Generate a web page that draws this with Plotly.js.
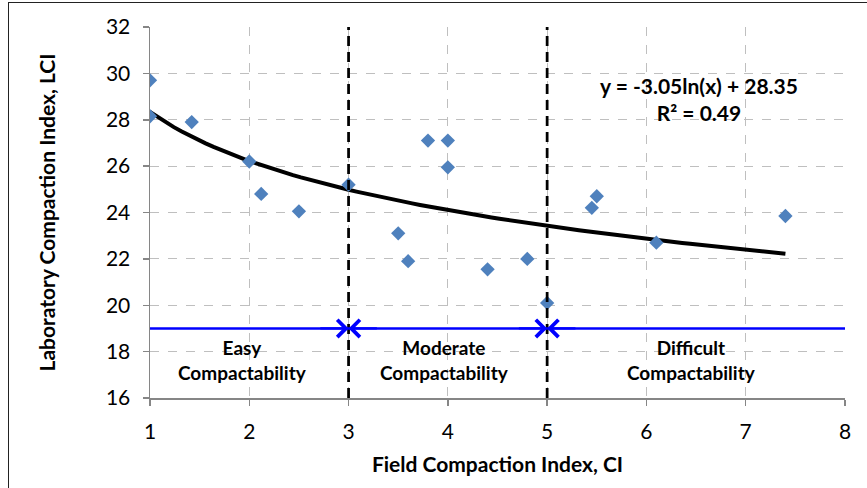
<!DOCTYPE html>
<html>
<head>
<meta charset="utf-8">
<script src="https://cdn.plot.ly/plotly-3.0.1.min.js"></script>
<style>
  html, body { margin: 0; padding: 0; background: #fff; }
  #wrap { position: relative; width: 867px; height: 488px; overflow: hidden; }
  #chart { position: absolute; left: 0; top: 0; width: 867px; height: 488px; }
  #frame { position: absolute; left: 8px; top: 2px; width: 900px; height: 600px;
           border-left: 1.5px solid #222; border-top: 1.5px solid #222; pointer-events: none; }
</style>
</head>
<body>
<div id="wrap">
  <div id="chart"></div>
  <div id="frame"></div>
</div>
<script>
// ---- data ----
const fieldCI = [1.0, 1.0, 1.42, 2.0, 2.12, 2.5, 3.0, 3.5, 3.6, 3.8, 4.0, 4.0, 4.4, 4.8, 5.0, 5.45, 5.5, 6.1, 7.4];
const labLCI  = [29.7, 28.15, 27.9, 26.2, 24.8, 24.05, 25.2, 23.1, 21.9, 27.1, 27.1, 25.95, 21.55, 22.0, 20.1, 24.2, 24.7, 22.7, 23.85];
const xTicks = [1, 2, 3, 4, 5, 6, 7, 8];
const yTicks = [16, 18, 20, 22, 24, 26, 28, 30, 32];
const thresholds = [3, 5];
const bandLevel = 19;
const zoneNames = ["Easy<br>Compactability", "Moderate<br>Compactability", "Difficult<br>Compactability"];
const zoneCenters = [1.93, 3.97, 6.45];
const equationText = "y = -3.05ln(x) + 28.35";
const r2Text = "R² = 0.49";

// ---- logarithmic least-squares trendline fitted from the data ----
const lnx = fieldCI.map(v => Math.log(v));
const n = fieldCI.length;
const mL = lnx.reduce((a, b) => a + b, 0) / n;
const mY = labLCI.reduce((a, b) => a + b, 0) / n;
let sxy = 0, sxx = 0;
for (let i = 0; i < n; i++) { sxy += (lnx[i] - mL) * (labLCI[i] - mY); sxx += (lnx[i] - mL) ** 2; }
const slope = sxy / sxx, intercept = mY - slope * mL;
const xMin = Math.min(...fieldCI), xMax = Math.max(...fieldCI);
const trendX = [], trendY = [];
for (let k = 0; k <= 80; k++) {
  const xv = xMin + (xMax - xMin) * k / 80;
  trendX.push(xv); trendY.push(slope * Math.log(xv) + intercept);
}

const FONT = "Lato, 'Open Sans', sans-serif";
const xr = [xTicks[0], xTicks[xTicks.length - 1]];
const yr = [yTicks[0], yTicks[yTicks.length - 1]];

const traces = [
  { x: trendX, y: trendY, type: "scatter", mode: "lines",
    line: { color: "#000", width: 4 }, hoverinfo: "skip", showlegend: false },
  { x: fieldCI, y: labLCI, type: "scatter", mode: "markers",
    marker: { symbol: "diamond", size: 11, color: "#4F81BD", line: { width: 0 } },
    showlegend: false }
];

const shapes = [];
thresholds.forEach(t => shapes.push({
  type: "line", xref: "x", yref: "paper", x0: t, x1: t, y0: 0, y1: 1,
  line: { color: "#000", width: 2.75, dash: "10px,6px" }, layer: "above"
}));
shapes.push({ type: "line", xref: "x", yref: "y", x0: xr[0], x1: xr[1], y0: bandLevel, y1: bandLevel,
  line: { color: "#0000FF", width: 2.5 }, layer: "above" });

const annotations = [];
// arrowheads pointing onto each threshold from both sides
thresholds.forEach(t => {
  [-0.3, 0.3].forEach(off => annotations.push({
    x: t, y: bandLevel, ax: t + off, ay: bandLevel, axref: "x", ayref: "y", xref: "x", yref: "y",
    text: "", showarrow: true, arrowhead: 4, arrowsize: 1.45, arrowwidth: 2.3, arrowcolor: "#0000FF"
  }));
});
zoneNames.forEach((name, i) => {
  annotations.push({ x: zoneCenters[i], y: bandLevel - 1.35, xref: "x", yref: "y", text: "<b>" + name + "</b>",
    showarrow: false, font: { family: FONT, size: 19, color: "#000" }, align: "center" });
});
annotations.push({ x: 6.53, y: 28.9, xref: "x", yref: "y", text: "<b>" + equationText + "</b><br><b>" + r2Text + "</b>",
  showarrow: false, font: { family: FONT, size: 21, color: "#000" }, align: "center" });

const axisCommon = {
  showgrid: true, gridcolor: "#BFBFBF", griddash: "dash", gridwidth: 1,
  zeroline: false, showline: true, linecolor: "#868686", linewidth: 1.5,
  ticks: "outside", ticklen: 6, tickcolor: "#868686", tickwidth: 1.5,
  ticklabelstandoff: 8,
  tickfont: { family: FONT, size: 21, color: "#000" }
};

const layout = {
  width: 867, height: 488,
  margin: { l: 150, r: 22, t: 27, b: 90 },
  paper_bgcolor: "#fff", plot_bgcolor: "#fff",
  font: { family: FONT },
  xaxis: Object.assign({}, axisCommon, {
    range: xr, tickvals: xTicks, ticktext: xTicks.map(String),
    title: { text: "<b>Field Compaction Index, CI</b>", font: { family: FONT, size: 21, color: "#000" }, standoff: 15 }
  }),
  yaxis: Object.assign({}, axisCommon, {
    range: yr, tickvals: yTicks, ticktext: yTicks.map(String),
    title: { text: "<b>Laboratory Compaction Index, LCI</b>", font: { family: FONT, size: 21, color: "#000" }, standoff: 44 }
  }),
  shapes: shapes,
  annotations: annotations,
  showlegend: false
};

Plotly.newPlot("chart", traces, layout, { displayModeBar: false, staticPlot: true });
</script>
</body>
</html>
